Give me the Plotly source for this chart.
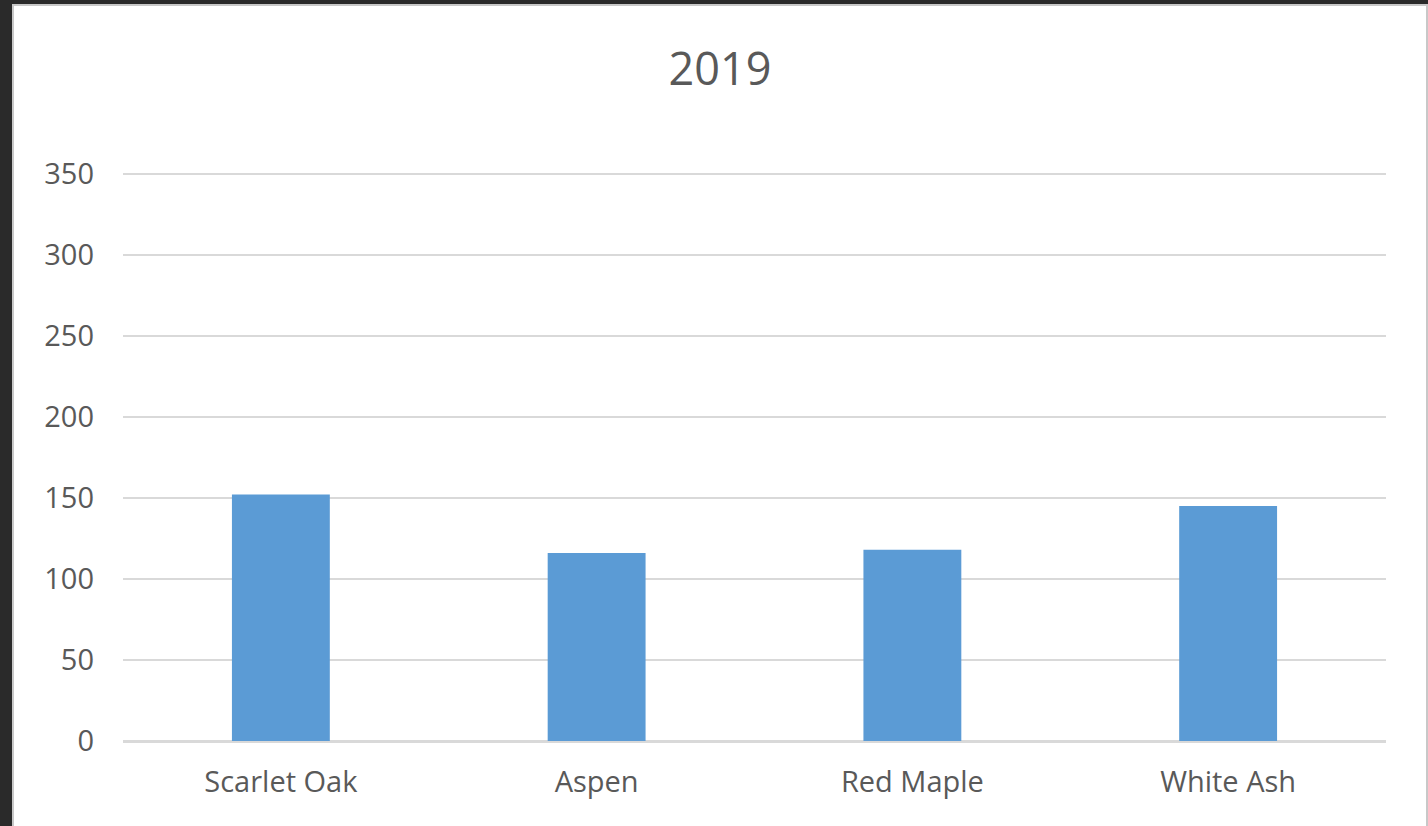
import plotly.graph_objects as go

# Tree counts by species, 2019
species = ["Scarlet Oak", "Aspen", "Red Maple", "White Ash"]
counts_2019 = [152, 116, 118, 145]
y_ticks = [0, 50, 100, 150, 200, 250, 300, 350]

W, H = 1428, 826
y_top = 351  # a little headroom so the 350 gridline is drawn
L, R, B = 123, 42, 85
px_per_unit = (741 - 174) / 350
T = round(174 - (y_top - 350) * px_per_unit)
plot_w = W - L - R
plot_h = H - T - B

def px_to_paper_x(px):
    return (px - L) / plot_w

def px_to_paper_y(py):
    return (H - B - py) / plot_h

font_family = "Open Sans, Noto Sans, sans-serif"
text_color = "#595959"
grid_color = "#d9d9d9"

fig = go.Figure(
    go.Bar(
        x=species,
        y=counts_2019,
        marker=dict(color="#5b9bd5", line=dict(width=0)),
        width=0.31,
        hoverinfo="x+y",
    )
)

# white card on a dark backdrop
fig.add_shape(
    type="rect",
    xref="paper", yref="paper",
    x0=px_to_paper_x(13), x1=px_to_paper_x(1427),
    y0=px_to_paper_y(H + 10), y1=px_to_paper_y(5),
    fillcolor="white",
    line=dict(color="#c8c8c8", width=2),
    layer="below",
)

fig.update_layout(
    width=W,
    height=H,
    margin=dict(l=L, r=R, t=T, b=B),
    paper_bgcolor="#2a2a2a",
    plot_bgcolor="rgba(0,0,0,0)",
    showlegend=False,
    font=dict(family=font_family, color=text_color),
    title=dict(
        text="2019",
        x=720 / W,
        xref="container",
        xanchor="center",
        y=1 - 69 / H,
        yref="container",
        yanchor="middle",
        font=dict(size=45, color=text_color, family=font_family),
    ),
    xaxis=dict(
        showgrid=False,
        showline=True,
        linecolor=grid_color,
        linewidth=2,
        ticks="",
        tickfont=dict(size=29, color=text_color),
        ticklabelstandoff=14,
    ),
    yaxis=dict(
        range=[0, y_top],
        tickvals=y_ticks,
        showgrid=True,
        gridcolor=grid_color,
        gridwidth=1.5,
        zeroline=True,
        zerolinecolor=grid_color,
        zerolinewidth=2,
        showline=False,
        ticks="",
        tickfont=dict(size=29, color=text_color),
        ticklabelstandoff=28,
    ),
)

fig.write_html("out.html")
